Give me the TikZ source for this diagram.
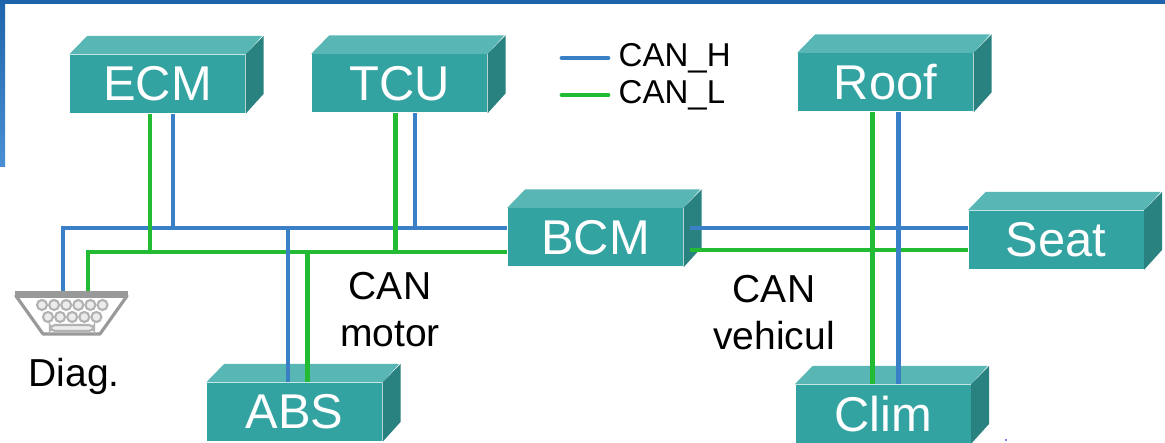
\documentclass[tikz,border=0pt]{standalone}
\usepackage{fontspec}
\setmainfont{Liberation Sans}

\definecolor{ecufront}{RGB}{51,163,162}
\definecolor{ecutop}{RGB}{88,182,180}
\definecolor{ecuside}{RGB}{41,130,128}
\definecolor{canblue}{RGB}{58,128,198}
\definecolor{cangreen}{RGB}{34,187,51}
\definecolor{framedark}{RGB}{30,100,172}
\definecolor{framelight}{RGB}{74,143,212}

\begin{document}
\begin{tikzpicture}

  \tikzstyle{ecu}=[shape=rectangle,fill=ecufront,minimum width=1.75cm,minimum height=0.58cm,inner sep=0pt,text=white,font=\fontsize{13.9}{15}\selectfont]

  \tikzstyle{canH}=[draw=canblue,line width=1.2pt]

  \tikzstyle{canL}=[draw=cangreen,line width=1.2pt]

  \tikzstyle{lbl}=[font=\fontsize{11.1}{13.4}\selectfont,inner sep=0pt]

  \tikzstyle{legend}=[font=\fontsize{9.4}{11}\selectfont,inner sep=0pt,anchor=base west]

  \tikzstyle{pin}=[draw=gray!60,fill=gray!15,line width=0.6pt]

\useasboundingbox (0,0) rectangle (11.65,4.43);

%% frame
\fill[framedark] (0,4.39) rectangle (11.65,4.43);
\shade[top color=framedark,bottom color=framelight] (0,2.76) rectangle (0.05,4.43);

%% nodes or ECUs
\node (ECM)[ecu] at (1.575,3.59) {ECM};
\node (TCU)[ecu] at (3.995,3.595) {TCU};
\node (Roof)[ecu] at (8.855,3.605) {Roof};
\node (BCM)[ecu] at (5.955,2.055) {BCM};
\node (Seat)[ecu] at (10.56,2.03) {Seat};
\node (Clim)[ecu] at (8.83,0.29) {Clim};
\node (ABS)[ecu] at (2.945,0.31) {ABS};

%% top and side faces
\foreach \n in {ECM,TCU,Roof,BCM,Seat,Clim,ABS}{
  \fill[ecutop] (\n.north west) -- ++(0.18,0.185) -- ++(1.75,0) -- (\n.north east) -- cycle;
  \fill[ecuside] (\n.north east) -- ++(0.18,0.185) -- ++(0,-0.58) -- (\n.south east) -- cycle;
}

%% bus ends
\coordinate (hbus) at ([yshift=0.95mm]BCM.west);
\coordinate (lbus) at ([yshift=-1.45mm]BCM.west);
\coordinate (hbusR) at ([xshift=0.6mm,yshift=0.95mm]BCM.east);
\coordinate (lbusR) at ([xshift=0.6mm,yshift=-1.25mm]BCM.east);
\coordinate (hL) at (0.63,1.50);
\coordinate (lL) at (0.88,1.50);

%% CAN motor
\draw[canH] (hL) |- (hbus);
\draw[canL] (lL) |- (lbus);

\path
	([xshift=-0.75mm]ECM.south) edge[canL] ([xshift=-0.75mm]ECM.south |- lbus)
	([xshift=1.55mm]ECM.south) edge[canH] ([xshift=1.55mm]ECM.south |- hbus)
	([xshift=-0.4mm]TCU.south) edge[canL] ([xshift=-0.4mm]TCU.south |- lbus)
	([xshift=1.55mm]TCU.south) edge[canH] ([xshift=1.55mm]TCU.south |- hbus)
	([xshift=-0.65mm]ABS.north) edge[canH] ([xshift=-0.65mm]ABS.north |- hbus)
	([xshift=1.3mm]ABS.north) edge[canL] ([xshift=1.3mm]ABS.north |- lbus)
;

%% CAN vehicul
\path
	(hbusR) edge[canH] (Seat.west |- hbusR)
	(lbusR) edge[canL] (Seat.west |- lbusR)
	([xshift=-1.3mm]Roof.south) edge[canL] ([xshift=-1.3mm]Roof.south |- Clim.north)
	([xshift=1.3mm]Roof.south) edge[canH] ([xshift=1.3mm]Roof.south |- Clim.north)
;

%% diag connector
\filldraw[draw=gray!80,fill=white,line width=0.9pt,line join=round] (0.16,1.47) -- (1.27,1.47) -- (1.00,1.09) -- (0.43,1.09) -- cycle;
\draw[gray!80,line width=2pt] (0.15,1.48) -- (1.28,1.48);
\foreach \x in {0,...,5}
  \filldraw[pin] (0.42+\x*0.121,1.38) circle (0.05);
\foreach \x in {0,...,4}
  \filldraw[pin] (0.48+\x*0.121,1.26) circle (0.05);
\filldraw[pin,rounded corners=0.5mm] (0.50,1.12) rectangle (0.94,1.18);

%% labels
\node (diag)[lbl,anchor=base west] at (0.28,0.56) {Diag.};
\node (canm)[lbl,align=center,anchor=base] at (3.90,0.96) {CAN\\motor};
\node (canv)[lbl,align=center,anchor=base] at (7.74,0.93) {CAN\\vehicul};

%% legend
\coordinate (legHs) at (5.62,3.85);
\coordinate (legLs) at (5.62,3.48);
\node (legH)[legend] at (6.18,3.76) {CAN\_H};
\node (legL)[legend] at (6.18,3.395) {CAN\_L};
\draw[canH,line width=1.4pt,line cap=round] (legHs) -- ([xshift=-1mm]legHs -| legH.west);
\draw[canL,line width=1.4pt,line cap=round] (legLs) -- ([xshift=-1mm]legLs -| legL.west);

\fill[blue] (10.06,0.03) circle (0.008);

\end{tikzpicture}
\end{document}
